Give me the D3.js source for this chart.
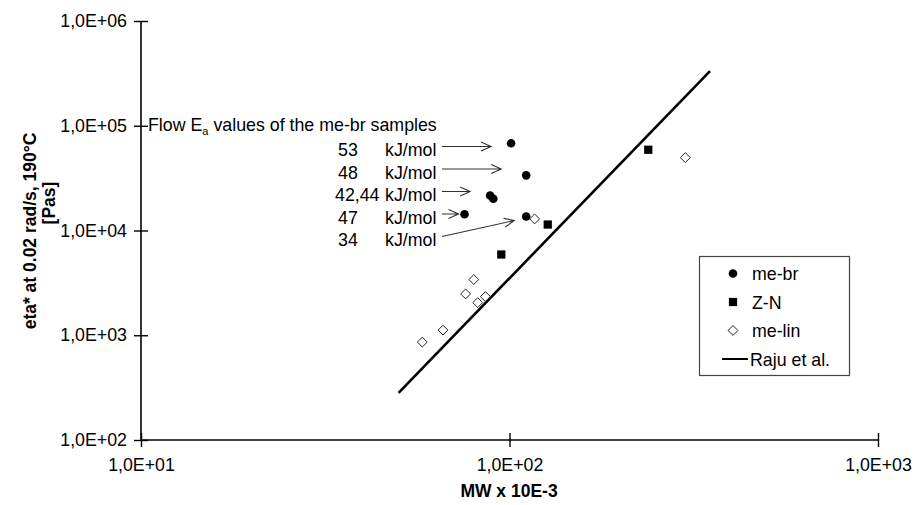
<!DOCTYPE html>
<html>
<head>
<meta charset="utf-8">
<script src="https://cdn.jsdelivr.net/npm/d3@7"></script>
<style>
  html, body { margin: 0; padding: 0; background: #fff; }
  svg { display: block; font-family: "Liberation Sans", Arial, sans-serif; }
</style>
</head>
<body>
<svg id="chart" width="914" height="505"></svg>
<script>
// ---- data ----
const meBrMW  = [101, 111, 88.6, 90.4, 75.5, 111];
const meBrEta = [68000, 33600, 21600, 20100, 14300, 13600];

const znMW  = [95, 127, 238];
const znEta = [5900, 11400, 59000];

const meLinMW  = [117, 300, 80, 76, 86, 82, 66, 58];
const meLinEta = [12900, 49600, 3400, 2480, 2340, 2050, 1120, 860];

const rajuMW  = [50, 350];
const rajuEta = [282, 332000];

const xTicks = [10, 100, 1000];
const yTicks = [100, 1000, 10000, 100000, 1000000];

const eaLabels = ["53", "48", "42,44", "47", "34"];
const eaTargetIndex = [0, 1, 2, 4, 5];   // which me-br point each label points to

const legendLabels = ["me-br", "Z-N", "me-lin", "Raju et al."];

// ---- layout ----
const FS = 17.8;
const svg = d3.select("#chart");
const x = d3.scaleLog().domain([10, 1000]).range([141, 878]);
const y = d3.scaleLog().domain([100, 1e6]).range([440, 21]);
const fmt = d => "1,0E+" + String(Math.round(Math.log10(d))).padStart(2, "0");

// axes
const gx = svg.append("g").attr("transform", "translate(0,440)")
  .call(d3.axisBottom(x).tickValues(xTicks).tickFormat(fmt).tickSizeOuter(0).tickSize(7).tickPadding(11));
const gy = svg.append("g").attr("transform", "translate(141,0)")
  .call(d3.axisLeft(y).tickValues(yTicks).tickFormat(fmt).tickSizeOuter(0).tickSize(7).tickPadding(7));
[gx, gy].forEach(g => {
  g.select(".domain").attr("stroke", "#000").attr("stroke-width", 1.6);
  g.selectAll(".tick text").attr("font-size", FS).attr("fill", "#000")
    .attr("font-family", "'Liberation Sans', Arial, sans-serif");
  g.selectAll(".tick line").attr("stroke", "#000").attr("stroke-width", 1.4);
});
gx.select(".domain").attr("d", `M${x(10)},0H${x(1000)}`);
gy.select(".domain").attr("d", `M0,${y(100)}V${y(1e6)}`);
gx.selectAll(".tick line").attr("y1", -7).attr("y2", 7);
gy.selectAll(".tick line").attr("x1", -7).attr("x2", 7);

// axis titles
svg.append("text").attr("x", 509).attr("y", 497).attr("text-anchor", "middle")
  .attr("font-size", 17.5).attr("font-weight", "bold").text("MW x 10E-3");
svg.append("text").attr("transform", "translate(36,231) rotate(-90)")
  .attr("text-anchor", "middle").attr("font-size", 17.5).attr("font-weight", "bold")
  .text("eta* at 0.02 rad/s, 190°C");
svg.append("text").attr("transform", "translate(55,203) rotate(-90)")
  .attr("text-anchor", "middle").attr("font-size", 17.5).attr("font-weight", "bold")
  .text("[Pas]");

// Raju line
svg.append("path")
  .datum(rajuMW.map((m, i) => [m, rajuEta[i]]))
  .attr("d", d3.line().x(d => x(d[0])).y(d => y(d[1])))
  .attr("fill", "none").attr("stroke", "#000").attr("stroke-width", 2.6);

// markers
const sym = {
  circle: d3.symbol().type(d3.symbolCircle).size(58),
  square: d3.symbol().type(d3.symbolSquare).size(68),
  diamond: d3.symbol().type(d3.symbolDiamond2).size(62)
};
svg.append("g").selectAll("path").data(meLinMW.map((m, i) => [m, meLinEta[i]])).join("path")
  .attr("transform", d => `translate(${x(d[0])},${y(d[1])})`)
  .attr("d", sym.diamond()).attr("fill", "#fff").attr("stroke", "#222").attr("stroke-width", 1);
svg.append("g").selectAll("path").data(znMW.map((m, i) => [m, znEta[i]])).join("path")
  .attr("transform", d => `translate(${x(d[0])},${y(d[1])})`)
  .attr("d", sym.square()).attr("fill", "#000");
svg.append("g").selectAll("path").data(meBrMW.map((m, i) => [m, meBrEta[i]])).join("path")
  .attr("transform", d => `translate(${x(d[0])},${y(d[1])})`)
  .attr("d", sym.circle()).attr("fill", "#000");

// annotation
const ann = svg.append("text").attr("x", 148).attr("y", 131).attr("font-size", FS);
ann.append("tspan").text("Flow E");
ann.append("tspan").attr("font-size", 11).attr("dy", 4).text("a");
ann.append("tspan").attr("dy", -4).text(" values of the me-br samples");

const rowY0 = 149.5, rowDy = 22.5;
const gaps = [20, 25, 20, 6, 12];
eaLabels.forEach((lab, i) => {
  const cy = rowY0 + i * rowDy;
  svg.append("text").attr("x", lab.length > 2 ? 335 : 338).attr("y", cy + 6.5)
    .attr("font-size", FS).text(lab);
  svg.append("text").attr("x", 385).attr("y", cy + 6.5).attr("font-size", FS).text("kJ/mol");
  const t = eaTargetIndex[i];
  const px = x(meBrMW[t]), py = y(meBrEta[t]);
  const x0 = 442, y0 = cy - 3;
  const x1 = px - gaps[i];
  const y1 = i === 4 ? py + 4 : y0;
  const ang = Math.atan2(y1 - y0, x1 - x0);
  const L = 11, w = 0.42;
  svg.append("path")
    .attr("d", `M${x0},${y0}L${x1},${y1}` +
      `M${x1 - L * Math.cos(ang - w)},${y1 - L * Math.sin(ang - w)}L${x1},${y1}` +
      `L${x1 - L * Math.cos(ang + w)},${y1 - L * Math.sin(ang + w)}`)
    .attr("fill", "none").attr("stroke", "#333").attr("stroke-width", 1.1);
});

// legend
const lg = svg.append("g");
lg.append("rect").attr("x", 699.5).attr("y", 256.5).attr("width", 150).attr("height", 119)
  .attr("fill", "#fff").attr("stroke", "#444").attr("stroke-width", 1.2);
const ly = [273.5, 302, 330.5, 359];
const lsyms = [
  g => g.append("path").attr("d", sym.circle()).attr("fill", "#000"),
  g => g.append("path").attr("d", sym.square()).attr("fill", "#000"),
  g => g.append("path").attr("d", sym.diamond()).attr("fill", "#fff").attr("stroke", "#222"),
  g => g.append("line").attr("x1", -11).attr("x2", 15).attr("stroke", "#000").attr("stroke-width", 2)
];
legendLabels.forEach((lab, i) => {
  const g = lg.append("g").attr("transform", `translate(733,${ly[i]})`);
  lsyms[i](g);
  lg.append("text").attr("x", i === 3 ? 750 : 752).attr("y", ly[i] + 6.5).attr("font-size", FS).text(lab);
});
</script>
</body>
</html>
